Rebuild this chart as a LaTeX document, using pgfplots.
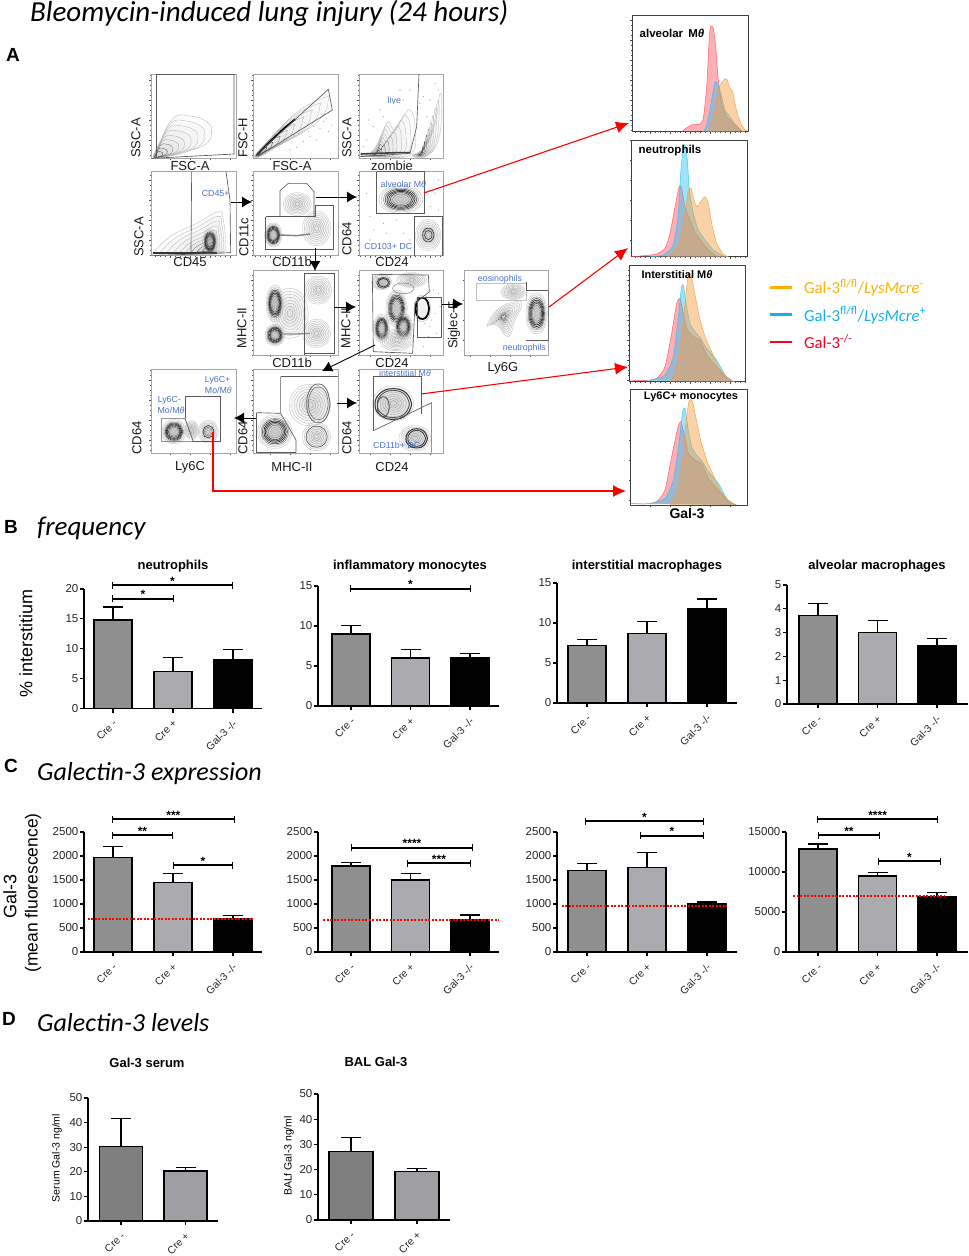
\documentclass[border=0pt]{standalone}
\usepackage{pgfplots}
\usepackage{pgfplotstable}
\usepackage{fontspec}
\pgfplotsset{compat=1.18}
\usetikzlibrary{arrows.meta}
\setmainfont{Liberation Sans}
\newfontfamily\calf{Carlito}
\definecolor{creA}{HTML}{8F8F8F}
\definecolor{creB}{HTML}{ABABAF}
\definecolor{creC}{HTML}{7F7F7F}
\definecolor{creD}{HTML}{9E9EA3}
\definecolor{hr}{HTML}{FF4D5E}
\definecolor{hb}{HTML}{27C2F2}
\definecolor{ho}{HTML}{F79A3A}
\definecolor{lgo}{HTML}{FFB000}
\definecolor{lgb}{HTML}{14AEEF}
\definecolor{lgr}{HTML}{F5001E}
\definecolor{bluetxt}{HTML}{4A72C8}
\newcommand\fs[1]{\fontsize{#1}{#1}\selectfont}
% ---------- bar panels
\pgfplotsset{
  barax/.style={scale only axis, clip=false, axis x line=bottom, axis y line=left,
    axis line style={-,line width=1.3pt}, ymin=0, tick align=outside,
    major tick length=4pt, tick style={black,line width=1.1pt}, scaled y ticks=false,
    xtick={0,1,2}, xticklabels={Cre -,Cre +,Gal-3 -/-},
    tick label style={text=black!85},
    yticklabel style={font=\fs{11.5},inner sep=1.5pt},
    xticklabel style={font=\fs{10.5},rotate=45,anchor=north east,inner sep=1pt,xshift=-4pt,yshift=-3pt},
    /pgf/number format/assume math mode=true, /pgf/number format/1000 sep={},
    anchor=south west},
  barb/.style={ybar, bar shift=0pt, bar width=38pt, draw=black, line width=1.5pt,
    error bars/y dir=plus, error bars/y explicit, error bars/error bar style={black,line width=1.2pt},
    error bars/error mark options={rotate=90,mark size=10pt,black,line width=1.2pt}},
  flow/.style={scale only axis, anchor=south west, y dir=reverse, axis line style={gray!70,line width=.8pt},
    tick align=outside, xtick pos=bottom, ytick pos=left, xticklabels={}, yticklabels={},
    xtick distance=60, ytick distance=60, minor tick num=3, major tick length=2pt, minor tick length=1pt,
    tick style={black!70,line width=.35pt}},
  hpan/.style={axis line style={black!75,line width=.8pt}},
  rg/.style={smooth, tension=.8, no markers, line width=.3pt, fill=black, fill opacity=.045},
  gt/.style={sharp plot, no markers, draw=black!65, line width=.65pt},
  sp/.style={only marks, mark=*, mark size=.28pt, gray!80},
}
\newcommand\sig[4]{\addplot[sharp plot,no markers,black,line width=1.3pt,{Bar[width=7pt]}-{Bar[width=7pt]}] coordinates {(#1,#3)(#2,#3)};
  \node[anchor=base,inner sep=0pt,font=\bfseries\fs{12}] at (axis cs:{(#1+#2)/2},#3) {#4};}
\newcommand\redl[3]{\addplot[sharp plot,no markers,red,line width=1.8pt,dash pattern=on 2pt off 1.5pt] coordinates {(#1,#3)(#2,#3)};}
% ---------- flow panels: limits are the zoom grid
\newcommand\fl[7]{%
 \pgfmathsetmacro\px{#1+#3/3}\pgfmathsetmacro\py{#2+#6/3}\pgfmathsetmacro\pw{(#5-#3)/3}\pgfmathsetmacro\ph{(#6-#4)/3}%
 \begin{axis}[flow,at={(\px pt,-\py pt)},width=\pw pt,height=\ph pt,xmin=#3,xmax=#5,ymin=#4,ymax=#6]#7\end{axis}}
\newcommand\flh[7]{%
 \pgfmathsetmacro\px{#1+#3/3}\pgfmathsetmacro\py{#2+#6/3}\pgfmathsetmacro\pw{(#5-#3)/3}\pgfmathsetmacro\ph{(#6-#4)/3}%
 \begin{axis}[flow,hpan,at={(\px pt,-\py pt)},width=\pw pt,height=\ph pt,xmin=#3,xmax=#5,ymin=#4,ymax=#6]#7\end{axis}}
\pgfplotstableread[row sep=\\,header=false]{1 0\\ .74 .68\\ .05 1\\ -.7 .74\\ -1 .04\\ -.72 -.7\\ -.02 -1\\ .7 -.72\\ 1 0\\}\ua
\pgfplotstableread[row sep=\\,header=false]{128 292\\ 150 245\\ 190 175\\ 240 168\\ 290 185\\ 305 215\\ 290 250\\ 240 272\\ 180 288\\ 128 292\\}\tpa
\pgfplotstableread[row sep=\\,header=false]{435 285\\ 500 215\\ 570 150\\ 650 110\\ 655 120\\ 640 165\\ 590 210\\ 510 255\\ 445 292\\ 435 285\\}\tpb
\pgfplotstableread[row sep=\\,header=false]{750 288\\ 790 270\\ 820 210\\ 835 185\\ 855 210\\ 880 170\\ 900 150\\ 915 200\\ 905 280\\ 830 292\\ 750 288\\}\tpc
\pgfplotstableread[row sep=\\,header=false]{905 285\\ 945 260\\ 975 190\\ 990 100\\ 995 150\\ 985 240\\ 955 285\\ 920 292\\ 905 285\\}\tpd
\pgfplotstableread[row sep=\\,header=false]{125 585\\ 180 530\\ 260 490\\ 325 455\\ 340 480\\ 345 550\\ 330 580\\ 200 587\\ 125 585\\}\tpe
\pgfplotstableread[row sep=\\,header=false]{1130 800\\ 1160 750\\ 1215 725\\ 1235 735\\ 1215 780\\ 1195 830\\ 1160 795\\ 1130 800\\}\tpf
% ring: table, anchor x, anchor y, scale, style
\newcommand\ring[5]{\addplot[rg,#5] table[x expr={#2+#4*(\thisrowno{0}-#2)},y expr={#3+#4*(\thisrowno{1}-#3)}] {#1};}
\newcommand\fan[3]{\ring{#1}{#2}{#3}{1}{gray!60}\ring{#1}{#2}{#3}{.88}{gray!60}\ring{#1}{#2}{#3}{.76}{gray!60}\ring{#1}{#2}{#3}{.64}{gray!65}\ring{#1}{#2}{#3}{.52}{gray!70}\ring{#1}{#2}{#3}{.42}{gray!75}\ring{#1}{#2}{#3}{.32}{black!60}\ring{#1}{#2}{#3}{.22}{black!70}\ring{#1}{#2}{#3}{.14}{black!80}}
% ellipse: cx cy rx ry scale style
\newcommand\el[6]{\addplot[rg,#6] table[x expr={#1+#5*#3*\thisrowno{0}},y expr={#2+#5*#4*\thisrowno{1}}] {\ua};}
\newcommand\lb[4]{\el{#1}{#2}{#3}{#4}{1}{gray!55}\el{#1}{#2}{#3}{#4}{.88}{gray!60}\el{#1}{#2}{#3}{#4}{.76}{gray!60}\el{#1}{#2}{#3}{#4}{.64}{gray!65}\el{#1}{#2}{#3}{#4}{.52}{gray!70}\el{#1}{#2}{#3}{#4}{.4}{gray!75}\el{#1}{#2}{#3}{#4}{.28}{gray!80}\el{#1}{#2}{#3}{#4}{.16}{gray!80}}
\newcommand\db[4]{\el{#1}{#2}{#3}{#4}{1}{gray!55}\el{#1}{#2}{#3}{#4}{.9}{gray!60}\el{#1}{#2}{#3}{#4}{.8}{black!60}\el{#1}{#2}{#3}{#4}{.72}{black!70,line width=.6pt}\el{#1}{#2}{#3}{#4}{.64}{black!80,line width=.7pt}\el{#1}{#2}{#3}{#4}{.56}{black!80,line width=.7pt}\el{#1}{#2}{#3}{#4}{.48}{black!70,line width=.6pt}\el{#1}{#2}{#3}{#4}{.38}{black!60}\el{#1}{#2}{#3}{#4}{.26}{gray!70}\el{#1}{#2}{#3}{#4}{.14}{gray!60}}
\newcommand\gate[1]{\addplot[gt] coordinates {#1};}
\newcommand\hist[2]{\addplot[smooth,tension=.35,no markers,fill=#1,fill opacity=.45,draw=#1,draw opacity=.85,line width=.5pt] coordinates {#2};}
\newcommand\bl[3]{\node[text=bluetxt,font=\fs{8.8},inner sep=0pt] at ({110+#1/3},{60+#2/3}) {#3};}
\newcommand\lx[3]{\node[font=\fs{13},inner sep=0pt,text=black!90] at (#1,#2) {#3};}
\newcommand\ly[3]{\node[font=\fs{13},inner sep=0pt,rotate=90,text=black!90] at (#1,#2) {#3};}
\begin{document}
\begin{tikzpicture}[x=1pt,y=-1pt]
\path[use as bounding box] (0,0) rectangle (969,1256);
% headings
\node[anchor=west,inner sep=0pt,font=\calf\itshape\fs{29}] at (30,13) {Bleomycin-induced lung injury (24 hours)};
\node[anchor=west,inner sep=0pt,font=\calf\itshape\fs{27}] at (37,528) {frequency};
\node[anchor=west,inner sep=0pt,font=\calf\itshape\fs{26}] at (37,774) {Galectin-3 expression};
\node[anchor=west,inner sep=0pt,font=\calf\itshape\fs{26}] at (37,1023) {Galectin-3 levels};
\node[font=\bfseries\fs{19},inner sep=0pt] at (13,55) {A};
\node[font=\bfseries\fs{19},inner sep=0pt] at (11,527) {B};
\node[font=\bfseries\fs{19},inner sep=0pt] at (11,766) {C};
\node[font=\bfseries\fs{19},inner sep=0pt] at (9,1019) {D};
% ---------- flow row 1
\fl{110}{60}{124}{42}{378}{295}{\fan{\tpa}{135}{292}\gate{(140,42)(140,290)}\gate{(372,42)(372,282)(125,295)}\gate{(140,44)(376,44)}}
\fl{110}{60}{430}{42}{684}{295}{\fan{\tpb}{440}{286}\addplot[sharp plot,no markers,black,line width=1.8pt] coordinates {(442,283)(480,245)(520,207)(555,178)};\gate{(440,283)(655,88)(667,150)(445,288)(440,283)}\addplot[sp] coordinates {(600,230)(630,205)(655,215)(640,185)(610,200)(580,245)(560,262)(650,175)(620,240)(595,215)(665,195)(540,270)};}
\fl{110}{60}{748}{42}{1000}{295}{\fan{\tpc}{800}{285}\fan{\tpd}{930}{285}\addplot[sharp plot,no markers,black!75,line width=1.6pt] coordinates {(752,282)(800,280)(860,278)(900,278)};\gate{(927,42)(920,200)(900,280)(750,290)}\addplot[sp] coordinates {(770,240)(790,200)(810,150)(850,130)(880,120)(900,90)(950,170)(960,120)(985,90)(940,110)(775,180)(760,260)(820,170)(870,90)(975,70)(955,210)(930,130)};}
% ---------- flow row 2
\fl{110}{60}{124}{335}{378}{587}{\fan{\tpe}{300}{572}\db{300}{545}{22}{38}\addplot[sharp plot,no markers,black!80,line width=2pt] coordinates {(128,578)(220,578)(320,578)};\gate{(245,335)(243,575)}\gate{(348,335)(360,420)(362,578)(128,587)}}
\fl{110}{60}{430}{335}{684}{587}{\lb{562}{432}{42}{34}\lb{620}{505}{42}{52}\db{490}{525}{26}{36}\addplot[sharp plot,no markers,black!50,line width=1.4pt] coordinates {(510,525)(560,527)(600,522)};\gate{(510,392)(535,370)(590,370)(612,395)(612,470)(510,470)(510,392)}\gate{(467,470)(617,470)(617,437)(670,437)(670,568)(467,568)(467,470)}}
\fl{110}{60}{748}{335}{1000}{587}{\db{873}{418}{66}{42}\lb{955}{525}{38}{46}\el{955}{525}{38}{46}{.45}{black!75,line width=.7pt}\el{955}{525}{38}{46}{.3}{black!75,line width=.7pt}\gate{(800,335)(942,335)(942,460)(800,460)(800,335)}\gate{(914,587)(914,470)(996,470)(996,587)}\addplot[sp] coordinates {(960,440)(975,400)(985,360)(780,470)(830,520)(880,520)(770,400)(900,540)(985,450)(780,540)(860,480)(820,490)(790,510)};}
% ---------- flow row 3
\fl{110}{60}{430}{632}{684}{885}{\lb{540}{760}{55}{75}\db{495}{730}{26}{55}\db{495}{825}{30}{32}\lb{625}{690}{40}{42}\lb{620}{820}{42}{42}\addplot[sharp plot,no markers,black!45,line width=1.3pt] coordinates {(520,822)(560,822)(600,820)};\gate{(582,885)(582,640)(672,640)(672,880)(582,880)}}
\fl{110}{60}{748}{632}{1000}{885}{\lb{815}{665}{30}{24}\db{815}{805}{24}{42}\db{860}{745}{32}{55}\db{880}{800}{28}{40}\lb{905}{660}{45}{22}\lb{860}{840}{50}{32}\el{820}{668}{22}{18}{.9}{black!70,line width=.7pt}\el{820}{668}{22}{18}{.7}{black!80,line width=.8pt}\el{880}{685}{40}{20}{.8}{black!50,line width=.5pt}\el{937}{745}{20}{32}{1}{black,line width=1.8pt}\el{937}{745}{20}{32}{1.25}{gray!70}\gate{(787,643)(955,645)(958,695)(915,730)(908,880)(790,875)(787,643)}\gate{(922,712)(995,712)(995,833)(922,833)(922,712)}\addplot[sp] coordinates {(960,800)(975,760)(985,700)(955,830)(940,860)(970,690)(980,820)(965,780)(990,740)(945,790)};}
\fl{110}{60}{1064}{632}{1316}{885}{\fan{\tpf}{1180}{770}\lb{1210}{695}{36}{24}\db{1280}{760}{32}{62}\addplot[gt,draw=gray!50] coordinates {(1098,670)(1248,670)(1248,720)(1098,720)(1098,670)};\gate{(1248,665)(1248,690)(1315,690)(1315,842)(1248,842)}}
% ---------- flow row 4
\fl{110}{60}{124}{928}{378}{1180}{\db{192}{1115}{36}{36}\lb{295}{1115}{30}{34}\el{295}{1115}{30}{34}{.55}{black!75,line width=.7pt}\el{295}{1115}{30}{34}{.4}{black!60}\lb{245}{1110}{20}{28}\gate{(155,1075)(225,1075)(250,1145)(155,1145)(155,1075)}\gate{(225,1075)(225,1010)(332,1010)(332,1145)(250,1145)}}
\fl{110}{60}{430}{928}{684}{1180}{\db{495}{1115}{52}{50}\lb{600}{1035}{62}{62}\el{625}{1030}{35}{58}{1}{black!60,line width=.8pt}\el{625}{1030}{35}{58}{.85}{black!55,line width=.6pt}\lb{620}{1130}{42}{42}\el{620}{1130}{42}{42}{.75}{black!60,line width=.7pt}\gate{(512,950)(684,950)}\gate{(512,950)(512,1060)(558,1140)(558,1178)}\gate{(440,1058)(512,1060)}\gate{(440,1058)(440,1178)(558,1178)}}
\fl{110}{60}{748}{928}{1000}{1180}{\lb{850}{1030}{62}{52}\el{850}{1032}{55}{46}{1}{black!80,line width=1pt}\el{850}{1032}{55}{46}{.88}{black!70,line width=.8pt}\el{820}{1040}{18}{30}{1}{black!70,line width=.8pt}\lb{915}{1135}{48}{38}\el{920}{1135}{38}{34}{.85}{black!80,line width=1pt}\el{920}{1135}{38}{34}{.7}{black!80,line width=.8pt}\gate{(790,1112)(790,948)(934,948)(934,1062)}\gate{(790,1112)(965,1028)(965,1178)}}
% ---------- histograms
\flh{610}{0}{67}{47}{415}{395}{\hist{hr}{(215,395)(235,380)(250,373)(270,372)(280,355)(290,260)(298,110)(302,78)(310,85)(316,130)(325,240)(335,310)(350,350)(370,370)(390,390)(400,395)}\hist{hb}{(280,395)(290,375)(300,330)(310,270)(316,245)(325,255)(335,290)(345,330)(360,350)(375,372)(395,392)(405,395)}\hist{ho}{(295,395)(305,370)(315,330)(325,265)(335,248)(345,236)(352,240)(358,262)(368,275)(378,325)(390,365)(405,390)(415,393)}}
\flh{610}{0}{65}{420}{413}{770}{\hist{hr}{(65,770)(100,767)(140,762)(165,745)(180,700)(195,620)(208,558)(215,565)(225,620)(240,660)(255,695)(275,725)(295,750)(320,768)(340,770)}\hist{hb}{(120,770)(160,765)(190,735)(205,640)(212,520)(220,440)(225,435)(232,480)(238,570)(250,640)(265,690)(285,720)(310,750)(340,768)(355,770)}\hist{ho}{(175,770)(200,745)(215,700)(228,620)(235,570)(243,565)(255,610)(262,620)(275,600)(285,590)(295,610)(305,670)(320,730)(340,763)(355,770)}}
\flh{610}{260}{58}{17}{407}{365}{\hist{hr}{(60,360)(100,362)(140,355)(165,320)(185,220)(200,130)(210,115)(218,150)(230,205)(250,230)(270,240)(290,285)(320,320)(350,355)(375,365)}\hist{hb}{(120,362)(165,345)(190,290)(205,170)(214,85)(220,75)(228,130)(240,190)(255,215)(270,232)(290,265)(320,300)(345,345)(370,365)}\hist{ho}{(180,365)(198,330)(215,230)(228,100)(236,40)(245,50)(255,105)(268,170)(285,230)(305,275)(325,320)(350,352)(372,365)}}
\flh{610}{260}{62}{387}{412}{735}{\hist{hr}{(62,730)(100,732)(140,725)(165,690)(185,590)(203,505)(212,485)(222,520)(235,580)(255,600)(275,610)(295,655)(325,690)(355,725)(380,735)}\hist{hb}{(120,732)(165,715)(190,660)(208,540)(218,455)(225,445)(233,500)(245,560)(260,585)(275,602)(295,635)(325,670)(350,715)(375,735)}\hist{ho}{(180,735)(200,700)(218,600)(230,470)(238,420)(248,425)(258,475)(272,540)(290,600)(310,645)(330,690)(355,722)(378,735)}}
% flow labels
\lx{190}{166}{FSC-A}\lx{292}{166}{FSC-A}\lx{392}{166}{zombie}
\lx{190}{262}{CD45}\lx{292}{262}{CD11b}\lx{392}{262}{CD24}
\lx{292}{363}{CD11b}\lx{392}{363}{CD24}\lx{503}{368}{Ly6G}
\lx{190}{467}{Ly6C}\lx{292}{467}{MHC-II}\lx{392}{467}{CD24}
\ly{136}{138}{SSC-A}\ly{243}{138}{FSC-H}\ly{347}{138}{SSC-A}
\ly{139}{237}{SSC-A}\ly{244}{237}{CD11c}\ly{347}{239}{CD64}
\ly{242}{328}{MHC-II}\ly{346}{328}{MHC-II}\ly{454}{325}{Siglec-F}
\ly{137}{438}{CD64}\ly{243}{438}{CD64}\ly{347}{438}{CD64}
\bl{853}{122}{live}\bl{317}{400}{CD45+}\bl{880}{373}{alveolar M\textit{θ}}\bl{835}{560}{CD103+ DC}
\bl{1170}{659}{eosinophils}\bl{1243}{866}{neutrophils}\bl{885}{941}{interstitial M\textit{θ}}\bl{860}{1155}{CD11b+ DC}
\bl{323}{960}{Ly6C+}\bl{325}{992}{Mo/M\textit{θ}}\bl{178}{1020}{Ly6C-}\bl{183}{1052}{Mo/M\textit{θ}}
% hist labels
\node[font=\bfseries\fs{11.5},inner sep=0pt] at (672,33) {alveolar\, M\textit{θ}};
\node[font=\bfseries\fs{11.5},inner sep=0pt] at (670,151) {neutrophils};
\node[font=\bfseries\fs{11},inner sep=0pt] at (677,275) {Interstitial M\textit{θ}};
\node[font=\bfseries\fs{11},inner sep=0pt] at (691,397) {Ly6C+ monocytes};
\node[font=\bfseries\fs{14},inner sep=0pt] at (687,513) {Gal-3};
% legend (in its own invisible axis)
\begin{axis}[hide axis,scale only axis,anchor=south west,at={(768pt,-362pt)},width=190pt,height=85pt,xmin=0,xmax=1,ymin=0,ymax=1,clip=false,
  legend style={at={(0,1)},anchor=north west,draw=none,fill=none,inner sep=0pt,row sep=7.5pt,font=\calf\fs{16.8}},
  legend cell align=left,
  legend image code/.code={\draw[line width=2.8pt,#1] (0pt,0pt)--(22pt,0pt);}]
\addlegendimage{lgo}\addlegendentry{\hspace{9pt}\textcolor{lgo}{Gal-3\textsuperscript{fl/fl}/\textit{LysMcre}\textsuperscript{-}}}
\addlegendimage{lgb}\addlegendentry{\hspace{9pt}\textcolor{lgb}{Gal-3\textsuperscript{fl/fl}/\textit{LysMcre}\textsuperscript{+}}}
\addlegendimage{lgr}\addlegendentry{\hspace{9pt}\textcolor{lgr}{Gal-3\textsuperscript{-/-}}}
\end{axis}
% ---------- Panel B
\begin{axis}[barax,at={(84pt,-708.5pt)},width=178pt,height=119.5pt,ymax=20,ytick={0,5,...,20},xmin=-.483,xmax=2.483]
\addplot[barb,fill=creA] coordinates {(0,14.8) +- (0,2.2)};
\addplot[barb,fill=creB] coordinates {(1,6.2) +- (0,2.4)};
\addplot[barb,fill=black] coordinates {(2,8.2) +- (0,1.7)};
\sig{-.017}{2}{20.67}{*}\sig{-.017}{1.02}{18.33}{*}
\end{axis}
\begin{axis}[barax,at={(318pt,-706pt)},width=181pt,height=120pt,ymax=15,ytick={0,5,10,15},xmin=-.555,xmax=2.487]
\addplot[barb,fill=creA] coordinates {(0,9) +- (0,1.1)};
\addplot[barb,fill=creB] coordinates {(1,6) +- (0,1.1)};
\addplot[barb,fill=black] coordinates {(2,6) +- (0,.6)};
\sig{-.017}{2.017}{14.63}{*}
\end{axis}
\begin{axis}[barax,at={(557pt,-703pt)},width=180pt,height=120pt,ymax=15,ytick={0,5,10,15},xmin=-.5,xmax=2.5]
\addplot[barb,fill=creA] coordinates {(0,7.2) +- (0,.7)};
\addplot[barb,fill=creB] coordinates {(1,8.7) +- (0,1.5)};
\addplot[barb,fill=black] coordinates {(2,11.8) +- (0,1.2)};
\end{axis}
\begin{axis}[barax,at={(787pt,-704pt)},width=181pt,height=119pt,ymax=5,ytick={0,1,...,5},xmin=-.521,xmax=2.521]
\addplot[barb,fill=creA] coordinates {(0,3.72) +- (0,.51)};
\addplot[barb,fill=creB] coordinates {(1,3.0) +- (0,.5)};
\addplot[barb,fill=black] coordinates {(2,2.43) +- (0,.32)};
\end{axis}
\node[font=\bfseries\fs{13},inner sep=0pt] at (173,566) {neutrophils};
\node[font=\bfseries\fs{13},inner sep=0pt] at (410,566) {inflammatory monocytes};
\node[font=\bfseries\fs{13},inner sep=0pt] at (647,566) {interstitial macrophages};
\node[font=\bfseries\fs{13},inner sep=0pt] at (877,566) {alveolar macrophages};
\node[font=\fs{18},rotate=90,inner sep=0pt] at (26,643) {\% interstitium};
% ---------- Panel C
\begin{axis}[barax,at={(84pt,-952pt)},width=178pt,height=120pt,ymax=2500,ytick={0,500,...,2500},xmin=-.483,xmax=2.483]
\addplot[barb,fill=creA] coordinates {(0,1970) +- (0,220)};
\addplot[barb,fill=creB] coordinates {(1,1450) +- (0,190)};
\addplot[barb,fill=black] coordinates {(2,690) +- (0,70)};
\redl{-.417}{2.33}{690}
\sig{-.017}{2.03}{2771}{***}\sig{-.017}{1}{2437}{**}\sig{1}{2}{1812}{*}
\end{axis}
\begin{axis}[barax,at={(318pt,-952pt)},width=181pt,height=120pt,ymax=2500,ytick={0,500,...,2500},xmin=-.555,xmax=2.487]
\addplot[barb,fill=creA] coordinates {(0,1790) +- (0,80)};
\addplot[barb,fill=creB] coordinates {(1,1500) +- (0,140)};
\addplot[barb,fill=black] coordinates {(2,680) +- (0,90)};
\redl{-.47}{2.487}{670}
\sig{0}{2.05}{2167}{****}\sig{.94}{2.017}{1854}{***}
\end{axis}
\begin{axis}[barax,at={(557pt,-952pt)},width=180pt,height=120pt,ymax=2500,ytick={0,500,...,2500},xmin=-.5,xmax=2.5]
\addplot[barb,fill=creA] coordinates {(0,1700) +- (0,150)};
\addplot[barb,fill=creB] coordinates {(1,1760) +- (0,320)};
\addplot[barb,fill=black] coordinates {(2,1000) +- (0,40)};
\redl{-.417}{2.333}{960}
\sig{-.033}{1.95}{2729}{*}\sig{.883}{1.95}{2417}{*}
\end{axis}
\begin{axis}[barax,at={(786pt,-952pt)},width=182pt,height=120pt,ymax=15000,ytick={0,5000,10000,15000},xmin=-.538,xmax=2.521]
\addplot[barb,fill=creA] coordinates {(0,12850) +- (0,650)};
\addplot[barb,fill=creB] coordinates {(1,9500) +- (0,450)};
\addplot[barb,fill=black] coordinates {(2,6900) +- (0,500)};
\redl{-.42}{2.135}{7000}
\sig{-.017}{2.02}{16625}{****}\sig{0}{1.04}{14625}{**}\sig{1}{2.07}{11375}{*}
\end{axis}
\node[font=\fs{18},rotate=90,inner sep=0pt] at (10,896) {Gal-3};
\node[font=\fs{17.5},rotate=90,inner sep=0pt] at (33,893) {(mean fluorescence)};
% ---------- Panel D
\begin{axis}[barax,at={(88pt,-1221pt)},width=130pt,height=123pt,ymax=50,ytick={0,10,...,50},xmin=-.512,xmax=1.504,xtick={0,1},xticklabels={Cre -,Cre +}]
\addplot[barb,bar width=43pt,fill=creC] coordinates {(0,30.3) +- (0,11.5)};
\addplot[barb,bar width=43pt,fill=creD] coordinates {(1,20.3) +- (0,1.4)};
\end{axis}
\begin{axis}[barax,at={(318pt,-1220pt)},width=132pt,height=126pt,ymax=50,ytick={0,10,...,50},xmin=-.5,xmax=1.5,xtick={0,1},xticklabels={Cre -,Cre +}]
\addplot[barb,bar width=44pt,fill=creC] coordinates {(0,27.2) +- (0,5.5)};
\addplot[barb,bar width=44pt,fill=creD] coordinates {(1,19.3) +- (0,1)};
\end{axis}
\node[font=\bfseries\fs{13},inner sep=0pt] at (147,1063) {Gal-3 serum};
\node[font=\bfseries\fs{13},inner sep=0pt] at (376,1062) {BAL Gal-3};
\node[font=\fs{10.5},rotate=90,inner sep=0pt] at (57,1158) {Serum Gal-3 ng/ml};
\node[font=\fs{10.5},rotate=90,inner sep=0pt] at (289,1156) {BALf Gal-3 ng/ml};
% ---------- arrows
\foreach \a/\b/\c/\d in {231/202/252/202,316/197/357/197,315/248/315/271,334/307/356/307,442/304/463/304,375/345/322/371,337/403/357/403,256/418/234/418}
  \draw[black,line width=.9pt,-{Latex[length=10pt,width=11pt]}] (\a,\b)--(\c,\d);
\draw[red,line width=1.1pt,-{Latex[length=13pt,width=12pt]}] (424,193)--(629,123);
\draw[red,line width=1.1pt,-{Latex[length=13pt,width=12pt]}] (549,307)--(628,248);
\draw[red,line width=1.1pt,-{Latex[length=13pt,width=12pt]}] (421,394)--(628,367);
\draw[red,line width=1.1pt,-{Latex[length=13pt,width=12pt]}] (213,432)--(213,491)--(626,491);
\end{tikzpicture}
\end{document}
